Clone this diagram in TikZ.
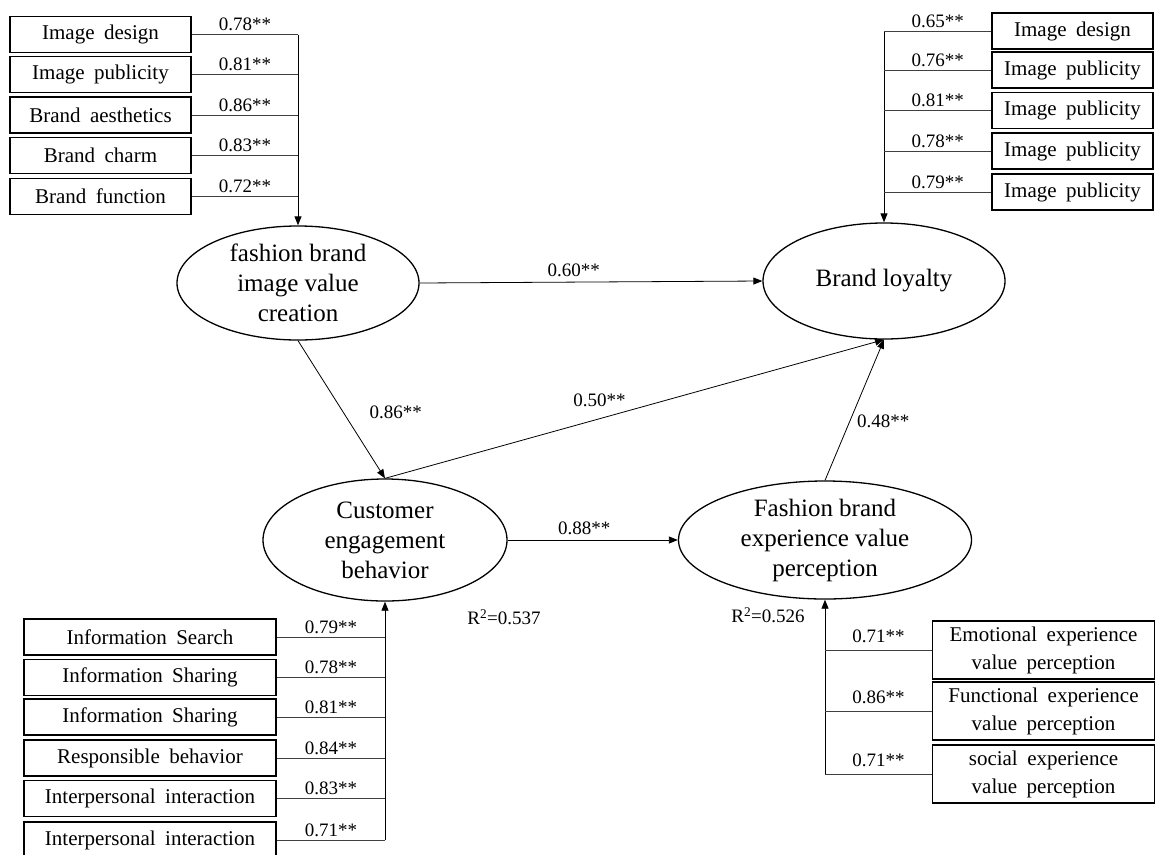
\documentclass[tikz,border=0pt]{standalone}
\usepackage{fontspec}
\setmainfont{Liberation Serif}
\usetikzlibrary{shapes.geometric,arrows.meta}

\begin{document}
\begin{tikzpicture}
  [x=1pt,y=-1pt,
   ind/.style={rectangle,draw=black,line width=1.5pt,inner sep=0pt,align=center,
     font={\fontsize{21}{28}\selectfont\spaceskip=.45em\relax}},
   lat/.style={ellipse,draw=black,line width=1.3pt,inner sep=0pt,align=center,
     font={\fontsize{25}{30}\selectfont}},
   coef/.style={font={\fontsize{19}{22}\selectfont},inner sep=2pt},
   arr/.style={line width=.8pt,-{Triangle[length=9pt,width=7pt]}},
   link/.style={line width=.8pt,draw=black!75}]
  \useasboundingbox (0,0) rectangle (1155,854);

  % latent variables
  \node[lat,minimum width=242pt,minimum height=114pt] (img) at (298,283) {fashion brand\\image value\\creation};
  \node[lat,minimum width=242pt,minimum height=116pt] (loy) at (884,281) {Brand loyalty};
  \node[lat,minimum width=244pt,minimum height=122pt] (eng) at (385,540) {Customer\\engagement\\behavior};
  \node[lat,minimum width=293pt,minimum height=118pt] (exp) at (825,540) {Fashion brand\\experience value\\perception};

  % items of fashion brand image value creation
  \node[ind,minimum width=181pt,minimum height=36pt] (a1) at (100.5,34.5) {Image design};
  \node[ind,minimum width=181pt,minimum height=36pt] (a2) at (100.5,74.5) {Image publicity};
  \node[ind,minimum width=181pt,minimum height=36pt] (a3) at (100.5,115) {Brand aesthetics};
  \node[ind,minimum width=181pt,minimum height=36pt] (a4) at (100.5,155.5) {Brand charm};
  \node[ind,minimum width=181pt,minimum height=36pt] (a5) at (100.5,196.5) {Brand function};
  \coordinate (ta) at (298,34.5);

  % items of brand loyalty
  \node[ind,minimum width=161pt,minimum height=36pt] (b1) at (1072.5,31) {Image design};
  \node[ind,minimum width=161pt,minimum height=36pt] (b2) at (1072.5,70) {Image publicity};
  \node[ind,minimum width=161pt,minimum height=36pt] (b3) at (1072.5,110.5) {Image publicity};
  \node[ind,minimum width=161pt,minimum height=36pt] (b4) at (1072.5,151) {Image publicity};
  \node[ind,minimum width=161pt,minimum height=36pt] (b5) at (1072.5,192) {Image publicity};
  \coordinate (tb) at (884,31);

  % items of customer engagement behavior
  \node[ind,minimum width=252pt,minimum height=36pt] (c1) at (150,637) {Information Search};
  \node[ind,minimum width=252pt,minimum height=36pt] (c2) at (150,677.5) {Information Sharing};
  \node[ind,minimum width=252pt,minimum height=36pt] (c3) at (150,717) {Information Sharing};
  \node[ind,minimum width=252pt,minimum height=36pt] (c4) at (150,758) {Responsible behavior};
  \node[ind,minimum width=252pt,minimum height=36pt] (c5) at (150,798.5) {Interpersonal interaction};
  \node[ind,minimum width=252pt,minimum height=36pt] (c6) at (150,840) {Interpersonal interaction};
  \coordinate (tc) at (385,840);

  % items of fashion brand experience value perception
  \node[ind,minimum width=222pt,minimum height=58pt] (d1) at (1043.5,650) {Emotional experience\\value perception};
  \node[ind,minimum width=222pt,minimum height=58pt] (d2) at (1043.5,711) {Functional experience\\value perception};
  \node[ind,minimum width=222pt,minimum height=58pt] (d3) at (1043.5,774) {social experience\\value perception};
  \coordinate (td) at (825,774);

  \draw[arr] (ta) -- (img.north);
  \draw[arr] (tb) -- (loy.north);
  \draw[arr] (tc) -- (eng.south);
  \draw[arr] (td) -- (exp.south);

  \foreach \from/\to/\w in {a1/ta/0.78,a2/ta/0.81,a3/ta/0.86,a4/ta/0.83,a5/ta/0.72,
                            c1/tc/0.79,c2/tc/0.78,c3/tc/0.81,c4/tc/0.84,c5/tc/0.83,c6/tc/0.71}
    \draw[link] (\from.east) -- node[coef,above=1pt] {\w**} (\from.east -| \to);
  \foreach \from/\to/\w in {b1/tb/0.65,b2/tb/0.76,b3/tb/0.81,b4/tb/0.78,b5/tb/0.79}
    \draw[link] (\from.west) -- node[coef,above=1pt] {\w**} (\from.west -| \to);
  \foreach \from/\to/\w in {d1/td/0.71,d2/td/0.86,d3/td/0.71}
    \draw[link] (\from.west) -- node[coef,above=5pt] {\w**} (\from.west -| \to);

  % structural paths
  \draw[arr] (img.east) -- node[coef,above=3pt,pos=.45] {0.60**} (loy.west);
  \draw[arr] (img.south) -- node[coef,right=24pt,pos=.52] {0.86**} (eng.north);
  \draw[arr] (eng.north) -- node[coef,above=10pt,pos=.43] {0.50**} (loy.south);
  \draw[arr] (exp.north) -- node[coef,right=5pt,pos=.42] {0.48**} (loy.south);
  \draw[arr] (eng.east) -- node[coef,above=3pt,pos=.45] {0.88**} (exp.west);

  \node[coef] (r1) at (504,617) {R\textsuperscript{2}=0.537};
  \node[coef] (r2) at (768,615) {R\textsuperscript{2}=0.526};
\end{tikzpicture}
\end{document}
